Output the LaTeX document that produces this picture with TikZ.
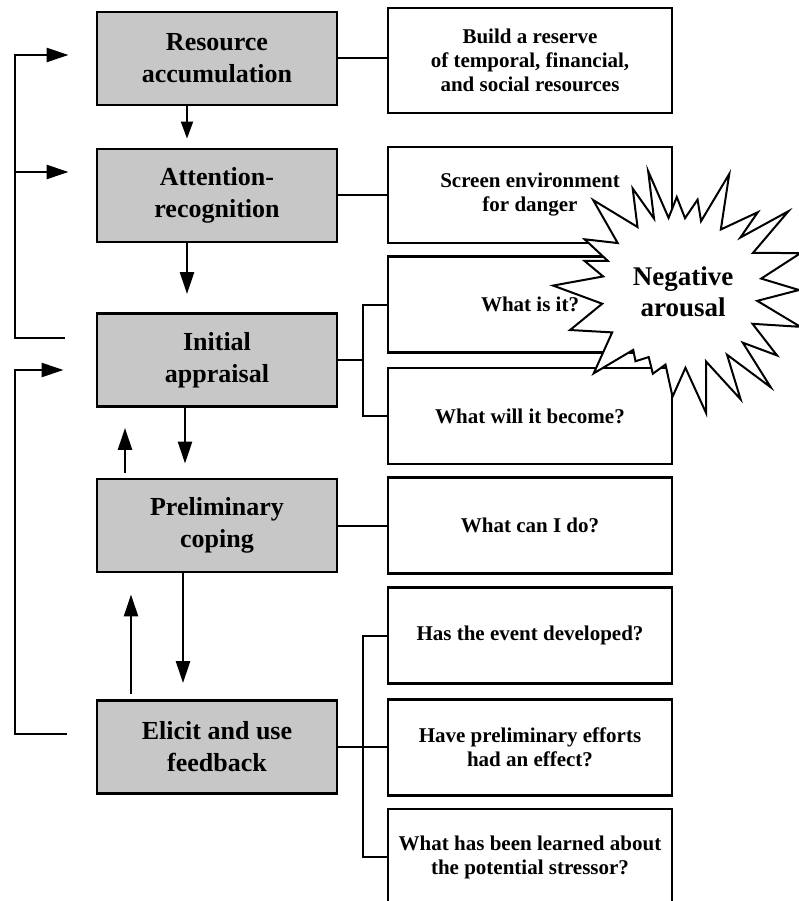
\documentclass[tikz,border=0pt]{standalone}
\usepackage{fontspec}
\setmainfont{Liberation Serif}
\usetikzlibrary{arrows.meta,positioning,calc}
\tikzstyle{stage}  = [draw, line width=2.8pt, fill=black!22, minimum width=240pt, minimum height=93pt, inner sep=0pt, align=center, font=\bfseries\fontsize{26}{32}\selectfont]
\tikzstyle{task}   = [draw, line width=2.6pt, fill=white, minimum width=284pt, minimum height=96pt, inner sep=0pt, align=center, font=\bfseries\fontsize{21}{24}\selectfont]
\tikzstyle{link}   = [line width=2pt]
\tikzstyle{arrow}  = [line width=2.2pt,-{Triangle[length=22pt,width=14pt]}]
\tikzstyle{sarrow} = [line width=2pt,-{Triangle[length=17pt,width=12pt]}]

\begin{document}
\begin{tikzpicture}[x=1pt,y=-1pt]
        \useasboundingbox (0,0) rectangle (799,901);
        % stages
        \node[stage] (res)  at (217,58.5)  {Resource\\accumulation};
        \node[stage] (att)  at (217,195.5) {Attention-\\recognition};
        \node[stage] (ini)  at (217,360)   {Initial\\appraisal};
        \node[stage] (cope) at (217,525.5) {Preliminary\\coping};
        \node[stage] (fb)   at (217,747)   {Elicit and use\\feedback};
        % questions
        \node[task, minimum height=105pt] (build) at (530,60.5) {Build a reserve\\of temporal, financial,\\and social resources};
        \node[task] (screen)  at (530,195)   {Screen environment\\for danger};
        \node[task] (whatis)  at (530,304.5) {What is it?};
        \node[task] (become)  at (530,416)   {What will it become?};
        \node[task] (cando)   at (530,525.5) {What can I do?};
        \node[task] (has)     at (530,635.5) {Has the event developed?};
        \node[task] (have)    at (530,747.5) {Have preliminary efforts\\had an effect?};
        \node[task] (learned) at (530,857)   {What has been learned about\\the potential stressor?};

        \draw[link] (res.east) -- (res.east -| build.west);
        \draw[link] (att.east) -- (att.east -| screen.west);
        \coordinate (jIni) at ($(ini.east)+(25,0)$);
        \draw[link] (ini.east) -- (jIni);
        \draw[link] (whatis.west) -| (jIni) |- (become.west);
        \draw[link] (cope.east) -- (cope.east -| cando.west);
        \coordinate (jFb) at ($(fb.east)+(25,0)$);
        \draw[link] (fb.east) -- (jFb);
        \draw[link] (has.west) -| (jFb) |- (learned.west);
        \draw[link] (jFb) -- (jFb -| have.west);

        % down and up
        \draw[sarrow, shorten >=9pt] ($(res.south)+(-30,0)$) -- ($(att.north)+(-30,0)$);
        \draw[arrow, shorten >=18pt] ($(att.south)+(-30,0)$) -- ($(ini.north)+(-30,0)$);
        \draw[arrow, shorten >=14pt] ($(ini.south)+(-32,0)$) -- ($(cope.north)+(-32,0)$);
        \draw[arrow, shorten <=5pt, shorten >=20pt] ($(cope.north)+(-92,0)$) -- ($(ini.south)+(-92,0)$);
        \draw[arrow, shorten >=16pt] ($(cope.south)+(-34,0)$) -- ($(fb.north)+(-34,0)$);
        \draw[arrow, shorten <=5pt, shorten >=21pt] ($(fb.north)+(-86,0)$) -- ($(cope.south)+(-86,0)$);

        % feedback loops
        \coordinate (rail) at (15,0);
        \coordinate (outA) at ($(ini.west)+(-31,-22)$);
        \coordinate (inA1) at ($(res.west)+(-27,-3.5)$);
        \coordinate (inA2) at ($(att.west)+(-27,-23.5)$);
        \coordinate (outB) at ($(fb.west)+(-29,-13)$);
        \coordinate (inB)  at ($(ini.west)+(-32,10)$);
        \draw[arrow] (outA) -- (outA -| rail) |- (inA1);
        \draw[arrow] (inA2 -| rail) -- (inA2);
        \draw[arrow] (outB) -- (outB -| rail) |- (inB);

        % burst
        \begin{scope}[shift={(680,290)}]
            \draw[line width=2pt, fill=white] (0:119)
                \foreach \a/\r in {8/78, 17/126, 25/80, 34/117, 40/82, 47/133, 54/80, 61/125, 70/76, 78/126,
                    86/78, 94/107, 101/76, 108/88, 115/74, 122/84, 128/76, 136/120, 148/80, 160/117,
                    170/79, 182/127, 190/78, 197/100, 202/78, 208/108, 217/78, 226/125, 236/76, 245/112,
                    250/76, 255/123, 261/73, 268/93, 274/72, 281/92, 287/72, 293/126, 304/73, 315/110,
                    319/80, 324/134, 333/82, 343/126, 352/82}
                { -- (\a:\r) } -- cycle;
        \end{scope}
        \node[align=center, font=\bfseries\fontsize{27}{31}\selectfont] (neg) at (683,292) {Negative\\arousal};
\end{tikzpicture}
\end{document}
